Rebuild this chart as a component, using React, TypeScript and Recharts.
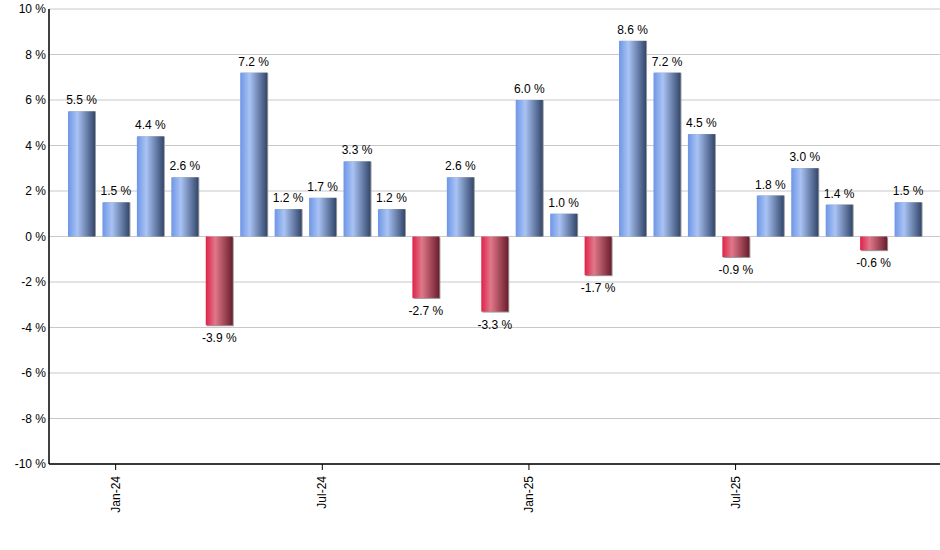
import React from 'react';
import { BarChart, Bar, XAxis, YAxis, CartesianGrid, Cell, LabelList } from 'recharts';

const months = [
  'Dec-23', 'Jan-24', 'Feb-24', 'Mar-24', 'Apr-24', 'May-24', 'Jun-24', 'Jul-24', 'Aug-24', 'Sep-24',
  'Oct-24', 'Nov-24', 'Dec-24', 'Jan-25', 'Feb-25', 'Mar-25', 'Apr-25', 'May-25', 'Jun-25', 'Jul-25',
  'Aug-25', 'Sep-25', 'Oct-25', 'Nov-25', 'Dec-25',
];
const returns = [
  5.5, 1.5, 4.4, 2.6, -3.9, 7.2, 1.2, 1.7, 3.3, 1.2,
  -2.7, 2.6, -3.3, 6.0, 1.0, -1.7, 8.6, 7.2, 4.5, -0.9,
  1.8, 3.0, 1.4, -0.6, 1.5,
];
const xTicks = ['Jan-24', 'Jul-24', 'Jan-25', 'Jul-25'];
const yTicks = [-10, -8, -6, -4, -2, 0, 2, 4, 6, 8, 10];

const data = months.map((m, i) => ({ month: m, value: returns[i] }));

const FONT = '"Liberation Sans", Arial, sans-serif';

const XTick = (props: any) => {
  const { x, y, payload } = props;
  return (
    <g transform={`translate(${x},${y})`}>
      <text
        transform="rotate(-90)"
        x={-4}
        y={4}
        textAnchor="end"
        fontSize={12}
        fontFamily={FONT}
        fill="#000"
      >
        {payload.value}
      </text>
    </g>
  );
};

const BarShape = (props: any) => {
  const { x, y, width, height, value } = props;
  const h = Math.abs(height);
  const top = Math.min(y, y + height);
  const neg = value < 0;
  return (
    <g>
      <rect x={x + 1} y={top + (neg ? 1 : 0)} width={width} height={h} fill="#9a9a9a" />
      <rect x={x} y={top} width={width} height={h} fill={neg ? 'url(#redGrad)' : 'url(#blueGrad)'} />
    </g>
  );
};

const ValueLabel = (props: any) => {
  const { x, y, width, height, value } = props;
  const cx = x + width / 2;
  const neg = value < 0;
  const top = Math.min(y, y + height);
  const bottom = Math.max(y, y + height);
  const ty = neg ? bottom + 17 : top - 7;
  return (
    <text x={cx} y={ty} textAnchor="middle" fontSize={12} fontFamily={FONT} fill="#000">
      {`${Number(value).toFixed(1)} %`}
    </text>
  );
};

export default function App() {
  return (
    <div style={{ position: 'absolute', left: 0, top: 0, width: 940, height: 550, background: '#fff' }}>
      <BarChart
        width={940}
        height={550}
        data={data}
        margin={{ top: 9, right: 0, bottom: 36, left: 0 }}
        barSize={27}
      >
        <defs>
          <linearGradient id="blueGrad" x1="0" y1="0" x2="1" y2="0">
            <stop offset="0%" stopColor="#6e96e6" />
            <stop offset="35%" stopColor="#a9c3f4" />
            <stop offset="100%" stopColor="#33476c" />
          </linearGradient>
          <linearGradient id="redGrad" x1="0" y1="0" x2="1" y2="0">
            <stop offset="0%" stopColor="#df2149" />
            <stop offset="35%" stopColor="#e07889" />
            <stop offset="100%" stopColor="#6b1d2c" />
          </linearGradient>
        </defs>
        <CartesianGrid vertical={false} stroke="#c8c8c8" strokeWidth={1} />
        <XAxis
          dataKey="month"
          ticks={xTicks}
          interval={0}
          height={50}
          padding={{ left: 15, right: 15 }}
          axisLine={{ stroke: '#000', strokeWidth: 1.5 }}
          tickLine={{ stroke: '#000' }}
          tickSize={6}
          tick={<XTick />}
        />
        <YAxis
          type="number"
          domain={[-10, 10]}
          ticks={yTicks}
          interval={0}
          width={49}
          axisLine={{ stroke: '#000', strokeWidth: 1.5 }}
          tickLine={false}
          tickSize={0}
          tickMargin={3}
          tickFormatter={(v: number) => `${v} %`}
          tick={{ fontSize: 12, fontFamily: FONT, fill: '#000' }}
        />
        <Bar dataKey="value" isAnimationActive={false} shape={<BarShape />}>
          {data.map((d, i) => (
            <Cell key={i} fill={d.value < 0 ? '#df2149' : '#6e96e6'} />
          ))}
          <LabelList dataKey="value" content={<ValueLabel />} />
        </Bar>
      </BarChart>
    </div>
  );
}
